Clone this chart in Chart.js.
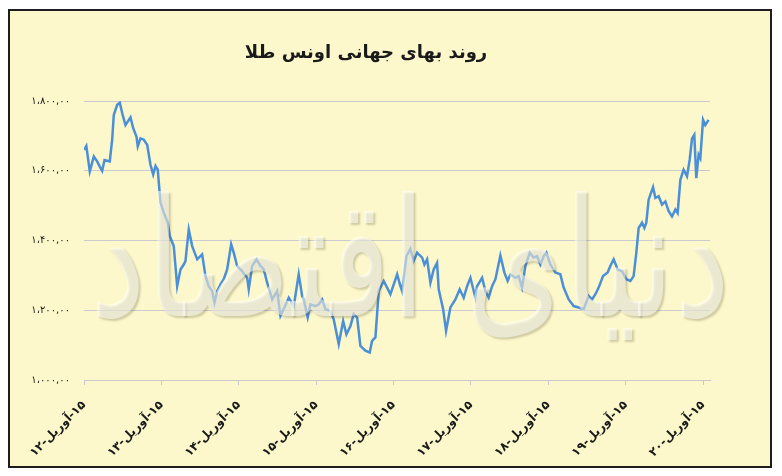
<!DOCTYPE html>
<html lang="fa">
<head>
<meta charset="utf-8">
<script src="https://cdn.jsdelivr.net/npm/chart.js@4.4.1/dist/chart.umd.min.js"></script>
<style>
  html, body { margin: 0; padding: 0; background: #fff; }
  #box {
    position: absolute; left: 8px; top: 9px;
    width: 764px; height: 459px;
    box-sizing: border-box;
    border: 2px solid #1e1e1e;
    background: #fcf8cb;
  }
  canvas { direction: rtl; display: block; }
</style>
</head>
<body>
<div id="box"><canvas id="goldChart" width="760" height="455"></canvas></div>
<script>
// روند بهای جهانی اونس طلا - years after 15 April 2012
const chartTitle = 'روند بهای جهانی اونس طلا';
const watermarkText = 'دنیای اقتصاد';

const xTickLabels = [
    '۱۵-آوریل-۱۲', '۱۵-آوریل-۱۳', '۱۵-آوریل-۱۴', '۱۵-آوریل-۱۵', '۱۵-آوریل-۱۶',
    '۱۵-آوریل-۱۷', '۱۵-آوریل-۱۸', '۱۵-آوریل-۱۹', '۱۵-آوریل-۲۰'
];
const yTickLabels = {
    1000: '۱،۰۰۰,۰۰', 1200: '۱،۲۰۰,۰۰', 1400: '۱،۴۰۰,۰۰',
    1600: '۱،۶۰۰,۰۰', 1800: '۱،۸۰۰,۰۰'
};

const yearOffsets = [
    0, 0.03, 0.075, 0.127, 0.17, 0.204, 0.235, 0.265, 0.333, 0.364,
    0.385, 0.429, 0.463, 0.494, 0.536, 0.601, 0.636, 0.678, 0.695, 0.73,
    0.773, 0.817, 0.859, 0.894, 0.924, 0.953, 0.988, 1.031, 1.083, 1.109,
    1.16, 1.204, 1.247, 1.289, 1.311, 1.354, 1.398, 1.463, 1.527, 1.57,
    1.612, 1.656, 1.686, 1.721, 1.764, 1.806, 1.85, 1.902, 1.935, 1.979,
    2.044, 2.109, 2.129, 2.173, 2.229, 2.28, 2.323, 2.367, 2.432, 2.496,
    2.539, 2.59, 2.646, 2.711, 2.775, 2.819, 2.84, 2.891, 2.926, 2.991,
    3.034, 3.078, 3.12, 3.185, 3.227, 3.292, 3.349, 3.391, 3.443, 3.486,
    3.53, 3.572, 3.637, 3.692, 3.723, 3.766, 3.809, 3.873, 3.917, 3.96,
    4.003, 4.047, 4.089, 4.111, 4.167, 4.218, 4.261, 4.305, 4.37, 4.399,
    4.434, 4.477, 4.519, 4.563, 4.584, 4.641, 4.679, 4.735, 4.8, 4.855,
    4.907, 4.951, 4.994, 5.058, 5.08, 5.145, 5.187, 5.23, 5.274, 5.317,
    5.381, 5.433, 5.475, 5.51, 5.575, 5.617, 5.661, 5.704, 5.76, 5.811,
    5.855, 5.898, 5.941, 5.976, 6.027, 6.092, 6.156, 6.199, 6.264, 6.328,
    6.393, 6.457, 6.522, 6.566, 6.609, 6.651, 6.708, 6.767, 6.802, 6.845,
    6.897, 6.953, 7.009, 7.061, 7.103, 7.138, 7.168, 7.212, 7.242, 7.267,
    7.297, 7.354, 7.384, 7.426, 7.47, 7.513, 7.556, 7.599, 7.642, 7.672,
    7.707, 7.749, 7.793, 7.827, 7.858, 7.887, 7.913, 7.943, 7.965, 8.0,
    8.029, 8.072
];
const goldPrices = [
    1660, 1671, 1598, 1641, 1627, 1612, 1600, 1631, 1627, 1689,
    1760, 1789, 1795, 1765, 1731, 1753, 1722, 1698, 1670, 1693,
    1689, 1674, 1617, 1589, 1614, 1603, 1509, 1480, 1451, 1412,
    1384, 1269, 1317, 1331, 1341, 1431, 1384, 1346, 1360, 1298,
    1269, 1255, 1222, 1255, 1274, 1289, 1317, 1389, 1365, 1327,
    1312, 1293, 1260, 1327, 1346, 1327, 1317, 1279, 1231, 1255,
    1184, 1208, 1236, 1212, 1303, 1241, 1231, 1180, 1217, 1212,
    1217, 1231, 1203, 1198, 1174, 1103, 1169, 1131, 1155, 1189,
    1179, 1098, 1084, 1079, 1112, 1122, 1255, 1284, 1265, 1246,
    1274, 1303, 1269, 1255, 1355, 1376, 1341, 1365, 1351, 1331,
    1346, 1279, 1317, 1336, 1260, 1203, 1141, 1208, 1231, 1260,
    1236, 1269, 1293, 1236, 1269, 1293, 1255, 1236, 1269, 1289,
    1357, 1308, 1284, 1303, 1293, 1298, 1265, 1327, 1365, 1351,
    1355, 1331, 1355, 1365, 1331, 1308, 1303, 1265, 1231, 1212,
    1208, 1203, 1241, 1231, 1246, 1265, 1298, 1308, 1327, 1346,
    1317, 1312, 1289, 1284, 1298, 1365, 1436, 1451, 1436, 1451,
    1517, 1553, 1522, 1527, 1503, 1512, 1484, 1469, 1489, 1479,
    1574, 1603, 1584, 1631, 1693, 1703, 1579, 1646, 1636, 1746,
    1731, 1746
];

// title drawn a bit left of centre, like the original
const titlePlugin = {
    id: 'persianTitle',
    afterDraw(chart) {
        const ctx = chart.ctx;
        ctx.save();
        ctx.font = 'bold 18px "DejaVu Sans"';
        ctx.fillStyle = '#1a1a1a';
        ctx.textAlign = 'center';
        ctx.textBaseline = 'middle';
        ctx.fillText(chartTitle, 356, 42);
        ctx.restore();
    }
};

// faint logo text over the line
const watermarkPlugin = {
    id: 'watermark',
    afterDatasetsDraw(chart) {
        const ctx = chart.ctx;
        ctx.save();
        ctx.font = '150px "DejaVu Sans"';
        ctx.textAlign = 'center';
        ctx.textBaseline = 'alphabetic';
        const w = ctx.measureText(watermarkText).width;
        ctx.translate(400, 305);
        ctx.scale(640 / w, 1.1);
        ctx.shadowColor = 'rgba(80,70,40,0.45)';
        ctx.shadowOffsetX = 2;
        ctx.shadowOffsetY = 2;
        ctx.shadowBlur = 2;
        ctx.fillStyle = 'rgba(255,255,248,0.55)';
        ctx.fillText(watermarkText, 0, 0);
        ctx.restore();
    }
};

const ctx = document.getElementById('goldChart').getContext('2d');
const goldChart = new Chart(ctx, {
    type: 'line',
    data: {
        datasets: [{
            data: yearOffsets.map((t, i) => ({ x: t, y: goldPrices[i] })),
            borderColor: '#4a8fd8',
            borderWidth: 2.5,
            pointRadius: 0,
            tension: 0,
            fill: false
        }]
    },
    options: {
        responsive: false,
        animation: false,
        devicePixelRatio: 1,
        layout: { padding: { top: 90, right: 60, left: 0, bottom: 0 } },
        plugins: {
            legend: { display: false },
            tooltip: { enabled: false },
            title: { display: false }
        },
        scales: {
            x: {
                type: 'linear',
                min: 0,
                max: 8.09,
                afterFit(scale) { scale.height = 86; },
                afterBuildTicks(scale) {
                    scale.ticks = xTickLabels.map((_, i) => ({ value: i }));
                },
                border: { display: true, color: '#c9c9cc', width: 1 },
                grid: {
                    drawOnChartArea: false,
                    drawTicks: true,
                    tickLength: 5,
                    color: '#c9c9cc'
                },
                ticks: {
                    minRotation: 45,
                    maxRotation: 45,
                    padding: 13,
                    color: '#1a1a1a',
                    font: { family: 'DejaVu Sans', size: 12, weight: 'bold' },
                    callback: (v) => xTickLabels[v]
                }
            },
            y: {
                min: 1000,
                max: 1800,
                afterFit(scale) { scale.width = 74; },
                border: { display: false },
                grid: { color: '#cbcbcf', lineWidth: 1, drawTicks: false },
                ticks: {
                    stepSize: 200,
                    padding: 14,
                    color: '#1a1a1a',
                    font: { family: 'DejaVu Sans', size: 10 },
                    callback: (v) => yTickLabels[v]
                }
            }
        }
    },
    plugins: [watermarkPlugin, titlePlugin]
});
</script>
</body>
</html>
